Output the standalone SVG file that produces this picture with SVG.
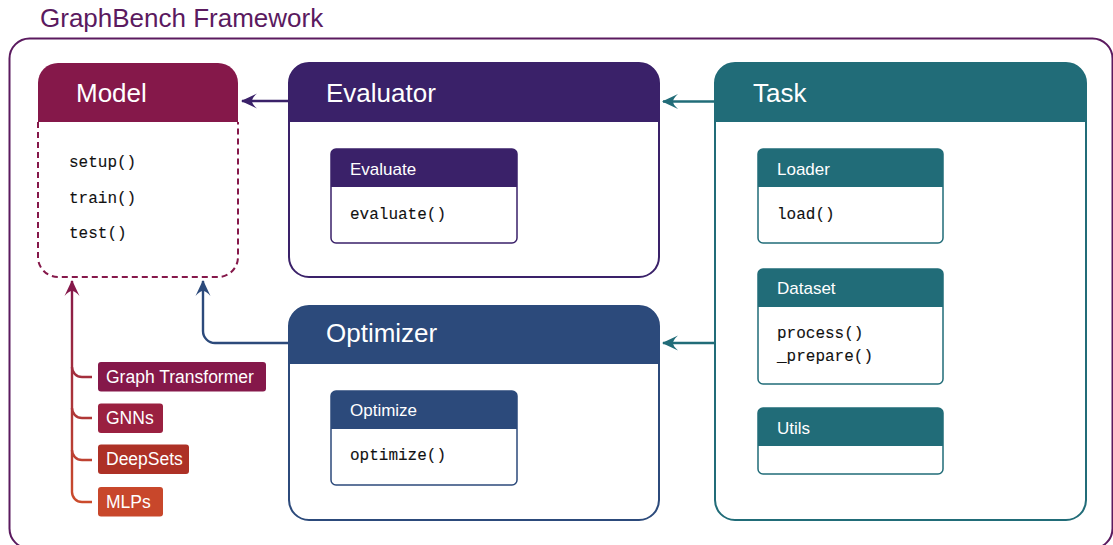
<svg xmlns="http://www.w3.org/2000/svg" width="1113" height="545" viewBox="0 0 1113 545">
  <style>
    .sans { font-family: "Liberation Sans", Arial, sans-serif; }
    .mono { font-family: "Liberation Mono", "Courier New", monospace; font-size: 16px; fill: #111; stroke: #111; stroke-width: 0.1; }
    .big { font-size: 26px; fill: #fff; }
    .small { font-size: 17px; fill: #fff; }
    .tag { font-size: 17.5px; fill: #fff; }
    .conn { fill: none; stroke-width: 2.4; }
  </style>
  <defs>
    <marker id="arrow-indigo" viewBox="-17 -9 18 18" refX="0" refY="0" markerWidth="18" markerHeight="18" markerUnits="userSpaceOnUse" orient="auto">
      <path d="M1,0 L-15,-7.5 Q-10,-3 -10,0 Q-10,3 -15,7.5 Z" fill="#3a2169"/>
    </marker>
    <marker id="arrow-teal" viewBox="-17 -9 18 18" refX="0" refY="0" markerWidth="18" markerHeight="18" markerUnits="userSpaceOnUse" orient="auto">
      <path d="M1,0 L-15,-7.5 Q-10,-3 -10,0 Q-10,3 -15,7.5 Z" fill="#216c78"/>
    </marker>
    <marker id="arrow-navy" viewBox="-17 -9 18 18" refX="0" refY="0" markerWidth="18" markerHeight="18" markerUnits="userSpaceOnUse" orient="auto">
      <path d="M1,0 L-15,-7.5 Q-10,-3 -10,0 Q-10,3 -15,7.5 Z" fill="#2c4a7b"/>
    </marker>
    <marker id="arrow-maroon" viewBox="-17 -9 18 18" refX="0" refY="0" markerWidth="18" markerHeight="18" markerUnits="userSpaceOnUse" orient="auto">
      <path d="M1,0 L-15,-7.5 Q-10,-3 -10,0 Q-10,3 -15,7.5 Z" fill="#85184a"/>
    </marker>
    <linearGradient id="family" gradientUnits="userSpaceOnUse" x1="0" y1="280" x2="0" y2="505">
      <stop offset="0" stop-color="#85184a"/>
      <stop offset="1" stop-color="#cc4c2b"/>
    </linearGradient>
  </defs>

  <!-- framework frame -->
  <g id="framework">
    <text class="sans" x="40" y="27" font-size="26" fill="#5b1a5f">GraphBench Framework</text>
    <rect x="9.5" y="38.5" width="1103" height="510" rx="20" fill="none" stroke="#5b1a5f" stroke-width="2"/>
  </g>

  <!-- Model -->
  <g id="model">
    <path d="M38,122 V257 A20,20 0 0 0 58,277 H218 A20,20 0 0 0 238,257 V122" fill="#fff" stroke="#85184a" stroke-width="2" stroke-dasharray="6,4"/>
    <path d="M38,122 V83 A20,20 0 0 1 58,63 H218 A20,20 0 0 1 238,83 V122 Z" fill="#85184a"/>
    <text class="sans big" x="76" y="101.5">Model</text>
    <text class="mono" x="69" y="167">setup()</text>
    <text class="mono" x="69" y="203">train()</text>
    <text class="mono" x="69" y="238">test()</text>
  </g>

  <!-- Evaluator -->
  <g id="evaluator">
    <rect x="289" y="63" width="370" height="214" rx="20" fill="#fff" stroke="#3a2169" stroke-width="2"/>
    <path d="M289,122 V83 A20,20 0 0 1 309,63 H639 A20,20 0 0 1 659,83 V122 Z" fill="#3a2169"/>
    <text class="sans big" x="326" y="101.5">Evaluator</text>
    <g id="evaluate">
      <rect x="331" y="149" width="186" height="94" rx="5" fill="#fff" stroke="#3a2169" stroke-width="1.5"/>
      <path d="M331,187 V154 A5,5 0 0 1 336,149 H512 A5,5 0 0 1 517,154 V187 Z" fill="#3a2169"/>
      <text class="sans small" x="350" y="175">Evaluate</text>
      <text class="mono" x="350" y="218.5">evaluate()</text>
    </g>
  </g>

  <!-- Optimizer -->
  <g id="optimizer">
    <rect x="289" y="306" width="370" height="214" rx="20" fill="#fff" stroke="#2c4a7b" stroke-width="2"/>
    <path d="M289,364 V326 A20,20 0 0 1 309,306 H639 A20,20 0 0 1 659,326 V364 Z" fill="#2c4a7b"/>
    <text class="sans big" x="326" y="342">Optimizer</text>
    <g id="optimize">
      <rect x="331" y="391" width="186" height="94" rx="5" fill="#fff" stroke="#2c4a7b" stroke-width="1.5"/>
      <path d="M331,429 V396 A5,5 0 0 1 336,391 H512 A5,5 0 0 1 517,396 V429 Z" fill="#2c4a7b"/>
      <text class="sans small" x="350" y="415.5">Optimize</text>
      <text class="mono" x="350" y="460">optimize()</text>
    </g>
  </g>

  <!-- Task -->
  <g id="task">
    <rect x="715" y="63" width="371" height="457" rx="20" fill="#fff" stroke="#216c78" stroke-width="2"/>
    <path d="M715,122 V83 A20,20 0 0 1 735,63 H1066 A20,20 0 0 1 1086,83 V122 Z" fill="#216c78"/>
    <text class="sans big" x="753" y="101.5">Task</text>
    <g id="loader">
      <rect x="758" y="149" width="185" height="94" rx="5" fill="#fff" stroke="#216c78" stroke-width="1.5"/>
      <path d="M758,187 V154 A5,5 0 0 1 763,149 H938 A5,5 0 0 1 943,154 V187 Z" fill="#216c78"/>
      <text class="sans small" x="777" y="175">Loader</text>
      <text class="mono" x="777" y="218.5">load()</text>
    </g>
    <g id="dataset">
      <rect x="758" y="269" width="185" height="115" rx="5" fill="#fff" stroke="#216c78" stroke-width="1.5"/>
      <path d="M758,307 V274 A5,5 0 0 1 763,269 H938 A5,5 0 0 1 943,274 V307 Z" fill="#216c78"/>
      <text class="sans small" x="777" y="294">Dataset</text>
      <text class="mono" x="777" y="338">process()</text>
      <text class="mono" x="777" y="361">_prepare()</text>
    </g>
    <g id="utils">
      <rect x="758" y="408" width="185" height="66" rx="5" fill="#fff" stroke="#216c78" stroke-width="1.5"/>
      <path d="M758,446 V413 A5,5 0 0 1 763,408 H938 A5,5 0 0 1 943,413 V446 Z" fill="#216c78"/>
      <text class="sans small" x="777" y="433.5">Utils</text>
    </g>
  </g>

  <!-- model families -->
  <g id="graph-transformer">
    <rect x="98" y="362" width="168" height="29.5" rx="3" fill="#85184a"/>
    <text class="sans tag" x="106" y="382.5">Graph Transformer</text>
  </g>
  <g id="gnns">
    <rect x="98" y="403.5" width="65" height="29.5" rx="3" fill="#9a2040"/>
    <text class="sans tag" x="106" y="424">GNNs</text>
  </g>
  <g id="deepsets">
    <rect x="98" y="444.5" width="91" height="29.5" rx="3" fill="#ad3126"/>
    <text class="sans tag" x="106" y="465">DeepSets</text>
  </g>
  <g id="mlps">
    <rect x="98" y="487" width="65" height="29.5" rx="3" fill="#c8472b"/>
    <text class="sans tag" x="106" y="508">MLPs</text>
  </g>

  <!-- connectors -->
  <g id="connectors">
    <path class="conn" d="M289,101 H242" stroke="#3a2169" marker-end="url(#arrow-indigo)"/>
    <path class="conn" d="M715,101.5 H663" stroke="#216c78" marker-end="url(#arrow-teal)"/>
    <path class="conn" d="M715,343 H663" stroke="#216c78" marker-end="url(#arrow-teal)"/>
    <path class="conn" d="M289,343 H215 A12,12 0 0 1 203,331 V281" stroke="#2c4a7b" marker-end="url(#arrow-navy)"/>
    <path class="conn" d="M92,502 H82 A10,10 0 0 1 72,492 V281" stroke="url(#family)" marker-end="url(#arrow-maroon)"/>
    <path class="conn" d="M72,367 A10,10 0 0 0 82,377 H92" stroke="url(#family)"/>
    <path class="conn" d="M72,408 A10,10 0 0 0 82,418 H92" stroke="url(#family)"/>
    <path class="conn" d="M72,450 A10,10 0 0 0 82,460 H92" stroke="url(#family)"/>
  </g>
</svg>
